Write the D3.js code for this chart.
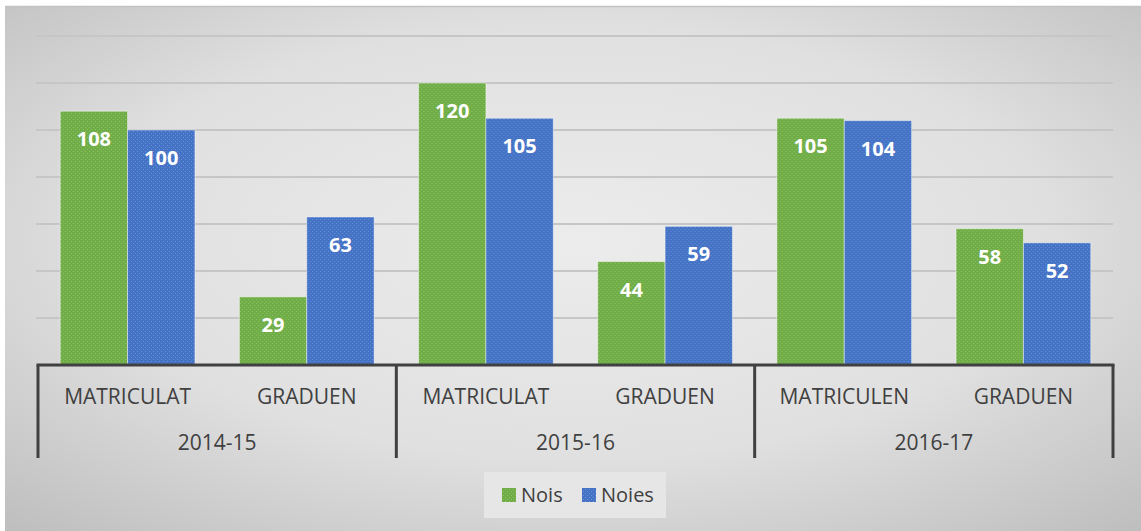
<!DOCTYPE html>
<html>
<head>
<meta charset="utf-8">
<script src="https://cdn.jsdelivr.net/npm/d3@7/dist/d3.min.js"></script>
<style>
  html, body { margin: 0; padding: 0; background: #fff; }
  svg { display: block; }
</style>
</head>
<body>
<svg id="chart" width="1141" height="531"></svg>
<script>
// ── Data ───────────────────────────────────────────────────────────────────
const years    = ['2014-15', '2015-16', '2016-17'];
const subcats  = ['MATRICULAT', 'GRADUEN', 'MATRICULAT', 'GRADUEN', 'MATRICULEN', 'GRADUEN'];
const series   = ['Nois', 'Noies'];
const nois     = [108, 29, 120, 44, 105, 58];
const noies    = [100, 63, 105, 59, 104, 52];
const yTicks   = [20, 40, 60, 80, 100, 120, 140];

const W = 1141, H = 531;
const plotL = 38, plotR = 1113, plotT = 36, base = 365;
const svg = d3.select('#chart');
const defs = svg.append('defs');

// background: soft radial grey like the Office theme
const bg = defs.append('radialGradient').attr('id', 'bg')
  .attr('cx', '50%').attr('cy', '45%').attr('r', '75%');
bg.append('stop').attr('offset', '0%').attr('stop-color', '#ececec');
bg.append('stop').attr('offset', '55%').attr('stop-color', '#e0e0e0');
bg.append('stop').attr('offset', '100%').attr('stop-color', '#bdbdbd');

// dotted fill patterns for bars
const colors = { Nois: '#70ad47', Noies: '#4472c4' };
const dots   = { Nois: '#8cc26a', Noies: '#6a90d8' };
series.forEach(s => {
  const p = defs.append('pattern').attr('id', 'pat-' + s)
    .attr('width', 4).attr('height', 4).attr('patternUnits', 'userSpaceOnUse');
  p.append('rect').attr('width', 4).attr('height', 4).attr('fill', colors[s]);
  p.append('rect').attr('x', 1).attr('y', 1).attr('width', 1).attr('height', 1).attr('fill', dots[s]);
  p.append('rect').attr('x', 3).attr('y', 3).attr('width', 1).attr('height', 1).attr('fill', dots[s]);
});

svg.append('rect').attr('x', 5).attr('y', 6).attr('width', W - 5).attr('height', H - 6)
  .attr('fill', 'url(#bg)');
svg.append('line').attr('x1', 5).attr('x2', W).attr('y1', 6.5).attr('y2', 6.5)
  .attr('stroke', '#c2c2c2').attr('stroke-width', 1.5);

// ── Scales ─────────────────────────────────────────────────────────────────
const idx = d3.range(subcats.length);
const x0 = d3.scaleBand().domain(idx).range([plotL, plotR]);
const x1 = d3.scaleBand().domain(series).range([0, x0.bandwidth()]).paddingOuter(0.33);
const y  = d3.scaleLinear().domain([0, 140]).range([base, plotT]);
const xg = d3.scaleBand().domain(years).range([plotL, plotR]);

// gridlines
svg.append('g').selectAll('line').data(yTicks).join('line')
  .attr('x1', plotL - 2).attr('x2', plotR)
  .attr('y1', d => y(d)).attr('y2', d => y(d))
  .attr('stroke', '#c6c6c6').attr('stroke-width', 2);

// bars
const rows = idx.map(i => ({ i, Nois: nois[i], Noies: noies[i] }));
const grp = svg.append('g').selectAll('g').data(rows).join('g')
  .attr('transform', d => `translate(${x0(d.i)},0)`);

grp.selectAll('rect').data(d => series.map(s => ({ s, v: d[s] }))).join('rect')
  .attr('x', d => x1(d.s)).attr('y', d => y(d.v))
  .attr('width', x1.bandwidth()).attr('height', d => base - y(d.v))
  .attr('fill', d => `url(#pat-${d.s})`)
  .attr('stroke', 'rgba(255,255,255,0.45)').attr('stroke-width', 1);

grp.selectAll('text').data(d => series.map(s => ({ s, v: d[s] }))).join('text')
  .attr('x', d => x1(d.s) + x1.bandwidth() / 2).attr('y', d => y(d.v) + 35)
  .attr('text-anchor', 'middle')
  .attr('font-family', 'Open Sans, sans-serif').attr('font-weight', 700)
  .attr('font-size', 20).attr('fill', '#fff')
  .text(d => d.v);

// ── Multi-level category axis ─────────────────────────────────────────────
const axis = svg.append('g');
axis.append('line').attr('x1', plotL - 1.5).attr('x2', plotR + 1.5).attr('y1', base).attr('y2', base)
  .attr('stroke', '#404040').attr('stroke-width', 3);
const seps = years.map(yr => xg(yr)).concat([plotR]);
axis.selectAll('line.sep').data(seps).join('line').attr('class', 'sep')
  .attr('x1', d => d).attr('x2', d => d).attr('y1', base).attr('y2', 458)
  .attr('stroke', '#404040').attr('stroke-width', 3);

axis.selectAll('text.sub').data(idx).join('text').attr('class', 'sub')
  .attr('x', i => x0(i) + x0.bandwidth() / 2).attr('y', 404)
  .attr('text-anchor', 'middle')
  .attr('font-family', 'Open Sans, sans-serif').attr('font-size', 21).attr('fill', '#404040')
  .text(i => subcats[i]);

axis.selectAll('text.yr').data(years).join('text').attr('class', 'yr')
  .attr('x', d => xg(d) + xg.bandwidth() / 2).attr('y', 450)
  .attr('text-anchor', 'middle')
  .attr('font-family', 'Open Sans, sans-serif').attr('font-size', 21).attr('fill', '#404040')
  .text(d => d);

// ── Legend ─────────────────────────────────────────────────────────────────
const lg = svg.append('g');
lg.append('rect').attr('x', 484).attr('y', 472).attr('width', 182).attr('height', 46)
  .attr('fill', '#e6e6e6');
const lx = { Nois: 502, Noies: 582 };
series.forEach(s => {
  lg.append('rect').attr('x', lx[s]).attr('y', 488).attr('width', 14).attr('height', 14)
    .attr('fill', `url(#pat-${s})`);
  lg.append('text').attr('x', lx[s] + 19).attr('y', 502)
    .attr('font-family', 'Open Sans, sans-serif').attr('font-size', 20).attr('fill', '#404040')
    .text(s);
});
</script>
</body>
</html>
